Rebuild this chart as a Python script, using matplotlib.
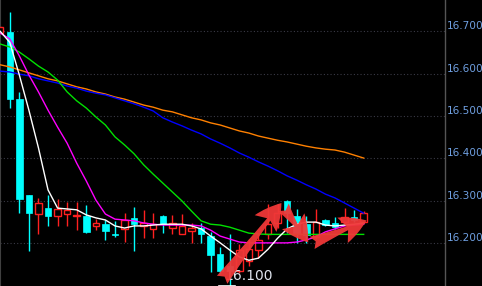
import matplotlib
matplotlib.use("Agg")
import matplotlib.pyplot as plt
import numpy as np

# ---------------- data ----------------
opens  = [16.697, 16.698, 16.540, 16.315, 16.268, 16.283, 16.265, 16.268, 16.265, 16.265,
          16.241, 16.245, 16.223, 16.233, 16.259, 16.241, 16.234, 16.264, 16.235, 16.222,
          16.229, 16.237, 16.218, 16.174, 16.147, 16.135, 16.158, 16.185, 16.222, 16.248,
          16.299, 16.265, 16.245, 16.215, 16.254, 16.247, 16.250, 16.261, 16.250]
highs  = [16.712, 16.745, 16.556, 16.315, 16.306, 16.315, 16.304, 16.297, 16.297, 16.290,
          16.257, 16.254, 16.252, 16.271, 16.285, 16.278, 16.271, 16.266, 16.266, 16.270,
          16.249, 16.248, 16.227, 16.191, 16.223, 16.199, 16.209, 16.223, 16.293, 16.293,
          16.303, 16.280, 16.265, 16.280, 16.258, 16.262, 16.283, 16.279, 16.276]
lows   = [16.695, 16.518, 16.271, 16.182, 16.222, 16.241, 16.241, 16.241, 16.231, 16.224,
          16.231, 16.208, 16.214, 16.202, 16.182, 16.213, 16.213, 16.224, 16.223, 16.222,
          16.201, 16.201, 16.132, 16.128, 16.100, 16.130, 16.147, 16.166, 16.209, 16.235,
          16.225, 16.200, 16.200, 16.210, 16.240, 16.233, 16.245, 16.250, 16.248]
closes = [16.710, 16.540, 16.304, 16.271, 16.294, 16.265, 16.280, 16.279, 16.266, 16.226,
          16.249, 16.229, 16.219, 16.254, 16.245, 16.249, 16.245, 16.245, 16.248, 16.241,
          16.237, 16.221, 16.173, 16.135, 16.135, 16.185, 16.186, 16.208, 16.245, 16.271,
          16.271, 16.225, 16.220, 16.250, 16.243, 16.239, 16.261, 16.254, 16.271]

ma_white = [16.700, 16.674, 16.597, 16.514, 16.425, 16.326, 16.283, 16.281, 16.279, 16.267,
            16.260, 16.255, 16.241, 16.236, 16.241, 16.241, 16.243, 16.245, 16.245, 16.245,
            16.241, 16.234, 16.217, 16.201, 16.184, 16.168, 16.160, 16.165, 16.186, 16.212,
            16.234, 16.245, 16.250, 16.250, 16.243, 16.241, 16.243, 16.245, 16.248]
ma_magenta = [16.696, 16.682, 16.642, 16.597, 16.557, 16.514, 16.474, 16.436, 16.389, 16.347,
              16.302, 16.269, 16.257, 16.255, 16.253, 16.248, 16.245, 16.243, 16.243, 16.243,
              16.243, 16.241, 16.231, 16.217, 16.210, 16.203, 16.201, 16.201, 16.201, 16.201,
              16.201, 16.203, 16.208, 16.215, 16.227, 16.234, 16.241, 16.243, 16.245]
ma_green = [16.670, 16.663, 16.651, 16.635, 16.618, 16.604, 16.585, 16.557, 16.536, 16.519,
            16.498, 16.479, 16.451, 16.432, 16.411, 16.385, 16.363, 16.342, 16.321, 16.300,
            16.276, 16.253, 16.245, 16.243, 16.238, 16.231, 16.224, 16.222, 16.221, 16.221,
            16.221, 16.221, 16.221, 16.221, 16.221, 16.221, 16.221, 16.221, 16.221]
ma_blue = [16.606, 16.604, 16.599, 16.595, 16.588, 16.583, 16.578, 16.571, 16.566, 16.559,
           16.554, 16.550, 16.543, 16.536, 16.529, 16.521, 16.512, 16.496, 16.486, 16.477,
           16.467, 16.458, 16.446, 16.436, 16.425, 16.413, 16.403, 16.392, 16.382, 16.371,
           16.359, 16.349, 16.338, 16.328, 16.316, 16.307, 16.295, 16.283, 16.271]
ma_orange = [16.621, 16.616, 16.609, 16.602, 16.595, 16.588, 16.583, 16.576, 16.569, 16.564,
             16.557, 16.552, 16.545, 16.540, 16.533, 16.526, 16.521, 16.514, 16.510, 16.503,
             16.496, 16.491, 16.484, 16.479, 16.472, 16.465, 16.460, 16.453, 16.448, 16.443,
             16.439, 16.434, 16.429, 16.425, 16.422, 16.420, 16.415, 16.408, 16.401]

ytick_vals = [16.2, 16.3, 16.4, 16.5, 16.6, 16.7]
ytick_labels = ["16.200", "16.300", "16.400", "16.500", "16.600", "16.700"]

low_label = "16.100"
low_index = 24
low_value = 16.100

# arrows: (tail_x, tail_y) -> (head_x, head_y) in (candle index, price)
arrow_tails = [(23.2, 16.114), (29.6, 16.285), (32.6, 16.201)]
arrow_heads = [(29.4, 16.295), (32.2, 16.202), (38.3, 16.254)]

# ---------------- figure ----------------
W, H = 482, 286
fig = plt.figure(figsize=(W / 100, H / 100), dpi=100, facecolor="black")
ax = fig.add_axes([0.0, 0.0, 445 / W, 1.0])
ax.set_facecolor("black")

x = np.arange(len(opens))
ax.set_xlim(-0.02, 445 / 9.57)
ax.set_ylim(16.0993, 16.7738)

# grid
for v in ytick_vals:
    ax.axhline(v, color="#3a3a46", lw=0.8, ls=(0, (1, 2)), zorder=0)

CYAN = "#00ffff"
RED = "#ff2020"
bw = 0.68
for i in x:
    o, h, l, c = opens[i], highs[i], lows[i], closes[i]
    if c >= o:
        ax.vlines(i, l, h, color=RED, lw=1.0, zorder=2)
        ax.bar(i, max(c - o, 0.0008), bottom=o, width=bw, facecolor="black",
               edgecolor=RED, lw=1.0, zorder=3)
    else:
        ax.vlines(i, l, h, color=CYAN, lw=1.0, zorder=2)
        ax.bar(i, o - c, bottom=c, width=bw, facecolor=CYAN,
               edgecolor=CYAN, lw=0.5, zorder=3)

lw = 1.0
ax.plot(x, ma_orange, color="#ff8000", lw=lw, zorder=4)
ax.plot(x, ma_blue, color="#0000ff", lw=lw, zorder=4)
ax.plot(x, ma_green, color="#00e000", lw=lw, zorder=4)
ax.plot(x, ma_magenta, color="#ff00ff", lw=lw, zorder=4)
ax.plot(x, ma_white, color="#ffffff", lw=lw, zorder=4)

# low marker
ax.plot([low_index - 1.1, low_index + 0.5], [low_value, low_value], color="white", lw=1.2, zorder=5)
ax.text(low_index - 0.6, low_value + 0.006, low_label, color="#dfe4ee", fontsize=10,
        family="DejaVu Sans", ha="left", va="bottom", zorder=6)

# arrows
for (tx, ty), (hx, hy) in zip(arrow_tails, arrow_heads):
    ax.annotate("", xy=(hx, hy), xytext=(tx, ty),
                arrowprops=dict(arrowstyle="fancy,head_length=0.55,head_width=0.58,tail_width=0.28",
                                mutation_scale=34, color="#f03838", alpha=0.95, lw=0,
                                shrinkA=0, shrinkB=0),
                zorder=7)

# axes styling
for s in ["top", "bottom"]:
    ax.spines[s].set_visible(False)
ax.spines["left"].set_color("#404040")
ax.spines["right"].set_color("#555555")
ax.spines["right"].set_linewidth(1.0)
ax.set_xticks([])
ax.yaxis.tick_right()
ax.set_yticks(ytick_vals)
ax.set_yticklabels(ytick_labels)
ax.tick_params(axis="y", length=0, pad=1, labelcolor="#6f9fe0", labelsize=7.6)
for t in ax.get_yticklabels():
    t.set_va("bottom")
    t.set_family("DejaVu Sans")

fig.savefig("out.png", dpi=100, facecolor="black")
